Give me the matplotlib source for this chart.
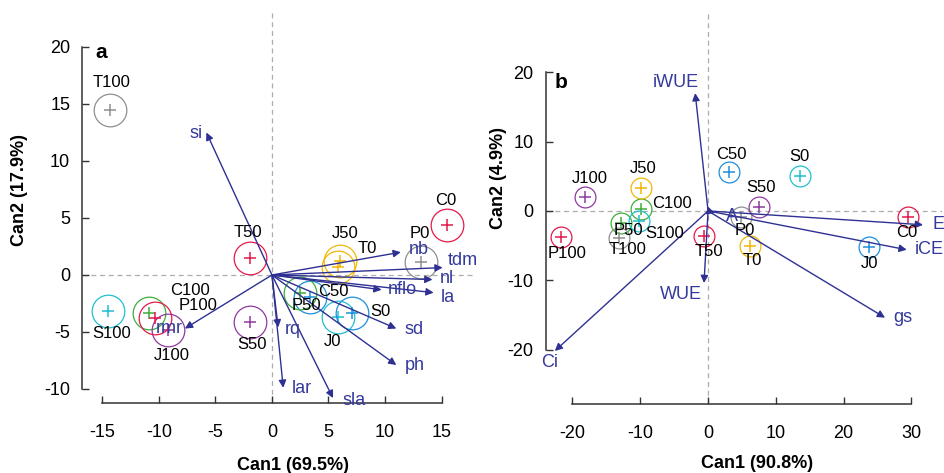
import numpy as np
import matplotlib
matplotlib.use('Agg')
import matplotlib.pyplot as plt

plt.rcParams['font.family'] = ['Liberation Sans', 'DejaVu Sans']
plt.rcParams['axes.unicode_minus'] = False

W = 944
H = 473
navy = '#2E3192'
pal = ['#E5194B', '#3DAF3A', '#1E8FDC', '#1FBFD0', '#8E3A9E', '#F2B705', '#8F8F8F']

# group names (same order in both panels)
groups = ['C0', 'C100', 'C50', 'J0', 'J100', 'J50', 'P0', 'P100', 'P50',
          'S0', 'S100', 'S50', 'T0', 'T100', 'T50']

# panel a: group means
a_x = [15.5, -10.9, 3.4, 5.8, -9.2, 6.0, 13.2, -10.3, 2.5, 7.1, -14.5, -1.95, 5.8, -14.3, -1.95]
a_y = [4.4, -3.35, -1.9, -3.7, -4.8, 1.2, 1.15, -3.8, -1.55, -3.35, -3.2, -4.15, 0.7, 14.5, 1.5]
a_col = [0, 1, 2, 3, 4, 5, 6, 0, 1, 2, 3, 4, 5, 6, 0]

# panel a: structure vectors
a_vars = ['si', 'nb', 'tdm', 'nl', 'la', 'nflo', 'sd', 'ph', 'sla', 'lar', 'rq', 'rmr']
a_vx = [-5.8, 11.4, 15.1, 14.2, 14.3, 9.7, 11.0, 11.0, 5.4, 1.0, 0.55, -7.7]
a_vy = [12.5, 2.0, 0.65, -0.4, -1.55, -1.3, -4.7, -7.9, -10.8, -9.9, -4.6, -4.7]

# panel b: group means
b_x = [29.5, -9.9, 3.1, 23.7, -18.1, -9.9, 4.8, -21.7, -12.8, 13.6, -10.2, 7.5, 6.2, -13.1, -0.6]
b_y = [-0.9, 0.3, 5.6, -5.2, 2.0, 3.3, -0.9, -3.8, -1.7, 5.1, -1.5, 0.6, -5.0, -3.9, -3.6]
b_col = [0, 1, 2, 2, 4, 5, 6, 0, 1, 3, 3, 4, 5, 6, 0]

# panel b: structure vectors
b_vars = ['iWUE', 'E', 'iCE', 'gs', 'WUE', 'Ci', 'A']
b_vx = [-1.9, 31.7, 29.3, 26.1, -0.6, -22.6, 1.0]
b_vy = [17.0, -2.0, -5.6, -15.4, -10.4, -20.2, -0.3]

# label offsets in pixels (dx, dy)
a_lab_off = {'C0': (-1, 24), 'C100': (41, 23), 'C50': (23, 5), 'J0': (-5, -24),
             'J100': (4, -26), 'J50': (5, 28), 'P0': (-1, 28), 'P100': (43, 13),
             'P50': (6, -13), 'S0': (28, 2), 'S100': (4, -22), 'S50': (2, -22),
             'T0': (30, 18), 'T100': (1, 27), 'T50': (-2, 25)}
b_lab_off = {'C0': (-1, -15), 'C100': (31, 5), 'C50': (2, 18), 'J0': (1, -17),
             'J100': (4, 19), 'J50': (2, 20), 'P0': (4, -13), 'P100': (6, -16),
             'P50': (7, -8), 'S0': (-1, 19), 'S100': (26, -12), 'S50': (2, 19),
             'T0': (2, -15), 'T100': (8, -12), 'T50': (5, -16)}
a_var_off = {'si': ('right', -4, -1), 'nb': ('left', 8, 3), 'tdm': ('left', 5, 7),
             'nl': ('left', 7, 1), 'la': ('left', 7, -5), 'nflo': ('left', 6, 0),
             'sd': ('left', 8, -1), 'ph': ('left', 8, 0), 'sla': ('left', 10, -2),
             'lar': ('left', 9, -1), 'rq': ('left', 7, -2), 'rmr': ('right', -2, 0)}
b_var_off = {'iWUE': ('center', -19, 11), 'E': ('left', 9, 0), 'iCE': ('left', 8, 0),
             'gs': ('left', 8, 0), 'WUE': ('center', -23, -11), 'Ci': ('center', -5, -12),
             'A': ('center', 17, -3)}


def px_axes(l, t, r, b):
    return [l/W, 1-b/H, (r-l)/W, (b-t)/H]


def panel(ax, xs, ys, cols, ms, lab_off, vnames, vx, vy, var_off, xb, yb, xt, yt, ypad):
    ax.axhline(0, color='#ADADAD', ls=(0, (4, 3)), lw=0.9, zorder=1)
    ax.axvline(0, color='#ADADAD', ls=(0, (4, 3)), lw=0.9, zorder=1)
    for i in range(len(vnames)):
        ax.annotate('', xy=(vx[i], vy[i]), xytext=(0, 0),
                    arrowprops=dict(arrowstyle='-|>', color=navy, lw=1.0,
                                    mutation_scale=11, shrinkA=0, shrinkB=0), zorder=3)
        ha, dx, dy = var_off[vnames[i]]
        ax.annotate(vnames[i], xy=(vx[i], vy[i]), xytext=(dx, dy), textcoords='offset pixels',
                    ha=ha, va='center', color='#34399C', fontsize=13, zorder=4)
    for i in range(len(groups)):
        c = pal[cols[i]]
        ax.plot(xs[i], ys[i], 'o', mfc='none', mec=c, ms=ms, mew=0.9, zorder=2)
        ax.plot(xs[i], ys[i], '+', color=c, ms=8, mew=1.1, zorder=2)
        dx, dy = lab_off[groups[i]]
        ax.annotate(groups[i], xy=(xs[i], ys[i]), xytext=(dx, dy), textcoords='offset pixels',
                    ha='center', va='center', fontsize=12, color='black', zorder=4)
    for s in ['top', 'right']:
        ax.spines[s].set_visible(False)
    ax.spines['left'].set_bounds(yb[0], yb[1])
    ax.spines['bottom'].set_bounds(xb[0], xb[1])
    for s in ['left', 'bottom']:
        ax.spines[s].set_color('#333333')
        ax.spines[s].set_linewidth(1.1)
    ax.set_xticks(xt)
    ax.set_yticks(yt)
    ax.tick_params(direction='in', length=5, width=1.0, color='#333333', labelsize=13)
    ax.tick_params(axis='x', pad=15)
    ax.tick_params(axis='y', pad=ypad)
    ax.patch.set_alpha(0)


fig = plt.figure(figsize=(W/100, H/100), dpi=100)

ax1 = fig.add_axes(px_axes(82, 13, 475, 403))
ax1.set_xlim(-16.8, 17.96)
ax1.set_ylim(-11.23, 22.98)
panel(ax1, a_x, a_y, a_col, 23.5, a_lab_off, a_vars, a_vx, a_vy, a_var_off,
      (-15, 15), (-10, 20), [-15, -10, -5, 0, 5, 10, 15], [-10, -5, 0, 5, 10, 15, 20], 8.5)

ax2 = fig.add_axes(px_axes(546, 12, 942, 404))
ax2.set_xlim(-23.9, 34.5)
ax2.set_ylim(-27.85, 28.7)
panel(ax2, b_x, b_y, b_col, 15, b_lab_off, b_vars, b_vx, b_vy, b_var_off,
      (-20, 30), (-20, 20), [-20, -10, 0, 10, 20, 30], [-20, -10, 0, 10, 20], 9)

fig.text(95/W, 1-58/H, 'a', fontsize=15, fontweight='bold', va='baseline', ha='left')
fig.text(555/W, 1-88/H, 'b', fontsize=15, fontweight='bold', va='baseline', ha='left')
fig.text(293/W, 1-465/H, 'Can1 (69.5%)', fontsize=13, fontweight='bold', ha='center', va='center')
fig.text(757/W, 1-463/H, 'Can1 (90.8%)', fontsize=13, fontweight='bold', ha='center', va='center')
fig.text(20/W, 1-190/H, 'Can2 (17.9%)', fontsize=13, fontweight='bold', rotation=90, ha='center', va='center')
fig.text(498/W, 1-178/H, 'Can2 (4.9%)', fontsize=13, fontweight='bold', rotation=90, ha='center', va='center')

fig.savefig('out.png', dpi=100)
